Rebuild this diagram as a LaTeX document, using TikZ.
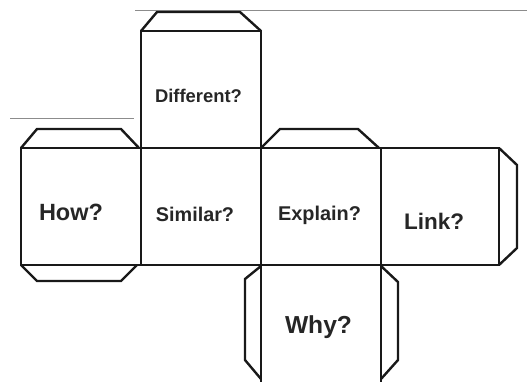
\documentclass[tikz,border=0pt]{standalone}
\usepackage{fontspec}
\setmainfont{Liberation Sans}
\begin{document}
\begin{tikzpicture}[x=1pt,y=-1pt,
  edge/.style={line width=2.4pt,line join=miter,draw=black!90},
  guide/.style={line width=0.8pt,draw=black!45},
  lbl/.style={font=\bfseries,text=black!85,inner sep=0pt,anchor=center}]
\useasboundingbox (0,0) rectangle (527,381);
\clip (0,0) rectangle (527,381);
% thin guide lines
\draw[guide] (135,10.5) -- (527,10.5);
\draw[guide] (10,118) -- (134,118);
% faces
\draw[edge] (141,31) rectangle (261,148);
\draw[edge] (21,148) rectangle (141,265);
\draw[edge] (141,148) rectangle (261,265);
\draw[edge] (261,148) rectangle (381,265);
\draw[edge] (381,148) rectangle (499,265);
\draw[edge] (261,265) rectangle (381,383);
% flaps
\draw[edge] (141,31) -- (157,12) -- (240,12) -- (261,31);
\draw[edge] (21,148) -- (37,129) -- (121,129) -- (139,148);
\draw[edge] (261,148) -- (280,129) -- (358,129) -- (379,148);
\draw[edge] (21,265) -- (37,281) -- (121,281) -- (137,265);
\draw[edge] (499,148) -- (517,165) -- (517,248) -- (499,265);
\draw[edge] (261,266) -- (245,279) -- (245,360) -- (261,379);
\draw[edge] (381,266) -- (398,282) -- (398,360) -- (381,379);
% labels
\node[lbl,font=\fontsize{18.4}{20}\bfseries] (different) at (198.5,96) {Different?};
\node[lbl,font=\fontsize{23.5}{26}\bfseries] (how) at (71,212.5) {How?};
\node[lbl,font=\fontsize{19.8}{22}\bfseries] (similar) at (195,214) {Similar?};
\node[lbl,font=\fontsize{19.9}{22}\bfseries] (explain) at (319.5,215) {Explain?};
\node[lbl,font=\fontsize{22.5}{25}\bfseries] (link) at (434,221) {Link?};
\node[lbl,font=\fontsize{24.6}{27}\bfseries] (why) at (318.5,327) {Why?};
\end{tikzpicture}
\end{document}
